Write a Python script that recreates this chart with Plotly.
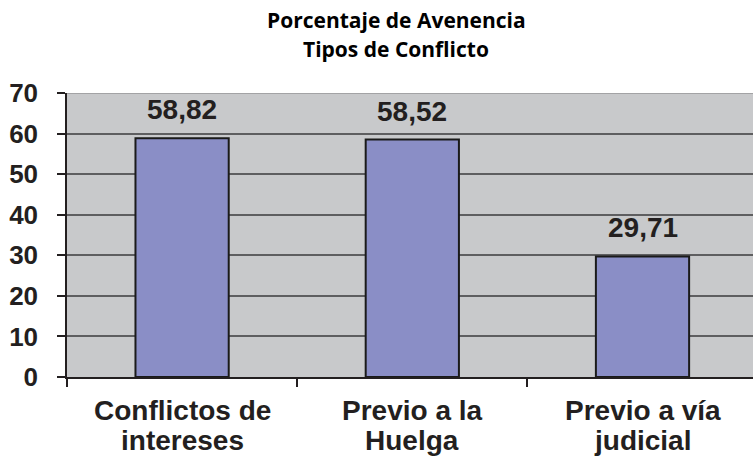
import plotly.graph_objects as go

# Chart data
categories = ["Conflictos de intereses", "Previo a la Huelga", "Previo a vía judicial"]
category_lines = [["Conflictos de", "intereses"], ["Previo a la", "Huelga"], ["Previo a vía", "judicial"]]
values = [58.82, 58.52, 29.71]
title_lines = ["Porcentaje de Avenencia", "Tipos de Conflicto"]
y_ticks = [0, 10, 20, 30, 40, 50, 60, 70]

value_text = [f"{v:.2f}".replace(".", ",") for v in values]

ARIAL = "Liberation Sans, Arial, sans-serif"

fig = go.Figure()
fig.add_trace(go.Bar(
    x=categories,
    y=values,
    width=0.405,
    marker=dict(color="#8A8EC6", line=dict(color="#1a1a1a", width=2)),
    hoverinfo="skip",
))

annotations = []
# value labels above each bar
for c, v, t in zip(categories, values, value_text):
    annotations.append(dict(
        x=c, y=v, xref="x", yref="y", text=t, showarrow=False,
        yanchor="bottom", yshift=11,
        font=dict(family=ARIAL, size=28, color="#231f20", weight="bold"),
    ))
# two-line category labels under the axis
for c, lines in zip(categories, category_lines):
    for i, line in enumerate(lines):
        annotations.append(dict(
            x=c, y=0, xref="x", yref="paper", text=line, showarrow=False,
            yanchor="middle", yshift=-33 - 30 * i,
            font=dict(family=ARIAL, size=28, color="#231f20", weight="bold"),
        ))
# title, two lines
for i, line in enumerate(title_lines):
    annotations.append(dict(
        x=0.48, y=1, xref="paper", yref="paper", text=line, showarrow=False,
        xanchor="center", yanchor="middle", yshift=73 - 29 * i,
        font=dict(family="Open Sans, sans-serif", size=21, color="#000000", weight="bold"),
    ))

fig.update_layout(
    width=753, height=458,
    margin=dict(l=67, r=0, t=93, b=81),
    paper_bgcolor="white",
    plot_bgcolor="#C8C9CB",
    showlegend=False,
    annotations=annotations,
    shapes=[dict(type="line", xref="paper", yref="y", x0=0, x1=1, y0=70, y1=70,
                 line=dict(color="#A3A3A5", width=2), layer="above")],
)

fig.update_xaxes(
    type="category",
    range=[-0.5, 2.48],
    showticklabels=False,
    tickson="boundaries",
    ticks="outside", ticklen=8, tickwidth=1.5, tickcolor="#231f20",
    showline=True, linecolor="#231f20", linewidth=1.5,
    showgrid=False, zeroline=False,
)
fig.update_yaxes(
    range=[0, 70],
    tickvals=y_ticks,
    ticks="outside", ticklen=8, tickwidth=1.5, tickcolor="#231f20",
    ticklabelstandoff=14,
    tickfont=dict(family=ARIAL, size=26, color="#231f20", weight="bold"),
    showline=True, linecolor="#231f20", linewidth=1.5,
    showgrid=True, gridcolor="#5E5E60", gridwidth=1.5,
    zeroline=False,
)

fig.write_html("out.html")
